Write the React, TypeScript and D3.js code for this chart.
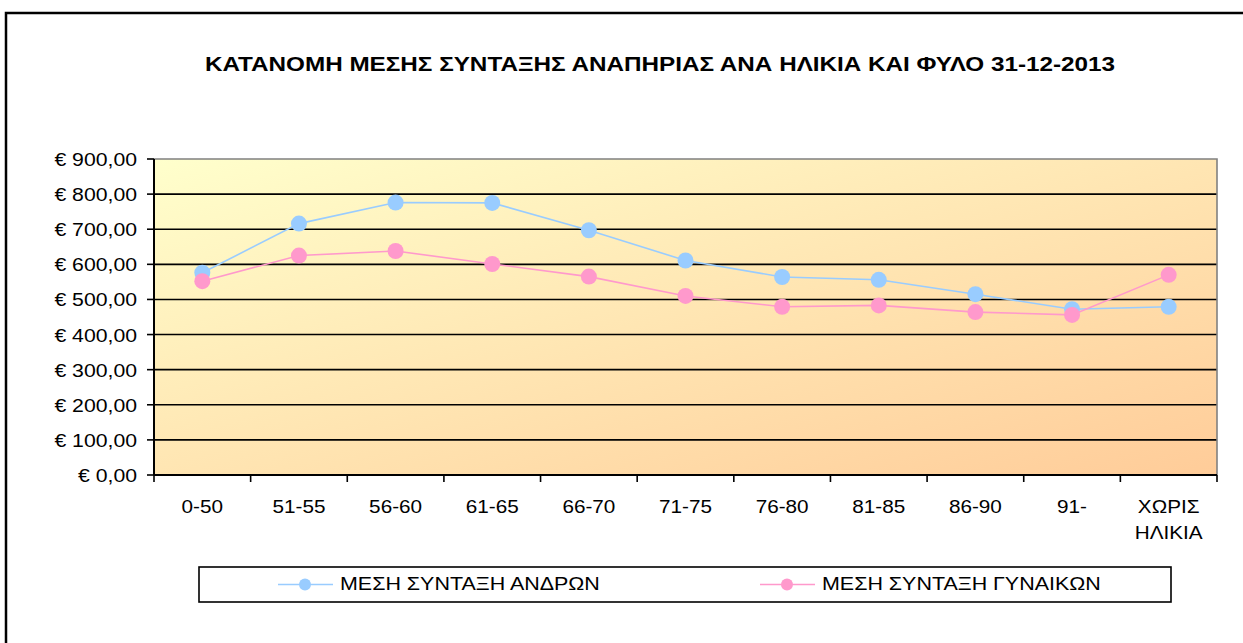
import React from "react";
import * as d3 from "d3";

const title = "ΚΑΤΑΝΟΜΗ ΜΕΣΗΣ ΣΥΝΤΑΞΗΣ ΑΝΑΠΗΡΙΑΣ ΑΝΑ ΗΛΙΚΙΑ ΚΑΙ ΦΥΛΟ 31-12-2013";
const categories = ["0-50", "51-55", "56-60", "61-65", "66-70", "71-75", "76-80", "81-85", "86-90", "91-", "ΧΩΡΙΣ ΗΛΙΚΙΑ"];
const men = [576, 716, 776, 775, 697, 611, 564, 556, 515, 472, 479];
const women = [552, 625, 638, 601, 565, 510, 479, 483, 464, 456, 570];
const yTicks = [0, 100, 200, 300, 400, 500, 600, 700, 800, 900];
const seriesNames = ["ΜΕΣΗ ΣΥΝΤΑΞΗ ΑΝΔΡΩΝ", "ΜΕΣΗ ΣΥΝΤΑΞΗ ΓΥΝΑΙΚΩΝ"];
const seriesColors = ["#99CCFF", "#FF99CC"];

const W = 1243, H = 643;
const plot = { left: 154, right: 1217, top: 159, bottom: 475 };
const font = "'Liberation Sans', Arial, sans-serif";

const locale = d3.formatLocale({ decimal: ",", thousands: ".", grouping: [3], currency: ["€ ", ""] });
const money = locale.format("$,.2f");

// the original text is a bit stretched sideways
const at = (x: number, y: number, sx: number) => `translate(${x},${y}) scale(${sx},1)`;

export default function App() {
  const x = d3.scaleBand().domain(categories).range([plot.left, plot.right]);
  const y = d3.scaleLinear().domain([0, 900]).range([plot.bottom, plot.top]);
  const cx = (c: string) => (x(c) as number) + x.bandwidth() / 2;
  const line = d3.line<number>().x((_, i) => cx(categories[i])).y((d) => y(d));
  const series = [men, women];

  return (
    <div style={{ position: "absolute", left: 0, top: 0 }}>
      <svg width={W} height={H} style={{ display: "block" }} fontFamily={font}>
        <defs>
          <linearGradient id="bg" x1="0" y1="0" x2="1" y2="1">
            <stop offset="0" stopColor="#FFFFCC" />
            <stop offset="1" stopColor="#FFCC99" />
          </linearGradient>
        </defs>
        <rect x={0} y={0} width={W} height={H} fill="#fff" />
        <rect x={6} y={13} width={1260} height={700} fill="none" stroke="#000" strokeWidth={2.5} />

        <text x={660} y={70.5} textAnchor="middle" fontWeight="bold" fontSize={21} textLength={910} lengthAdjust="spacingAndGlyphs">
          {title}
        </text>

        <rect x={plot.left} y={plot.top} width={plot.right - plot.left} height={plot.bottom - plot.top} fill="url(#bg)" />
        {yTicks.filter((t) => t > 0 && t < 900).map((t) => (
          <line key={t} x1={plot.left} x2={plot.right} y1={y(t)} y2={y(t)} stroke="#000" strokeWidth={1.6} />
        ))}
        <path d={`M${plot.left},${plot.top}H${plot.right}V${plot.bottom}`} fill="none" stroke="#808080" strokeWidth={1.6} />

        {/* y axis */}
        <line x1={plot.left} x2={plot.left} y1={plot.top} y2={plot.bottom} stroke="#000" strokeWidth={2} />
        {yTicks.map((t) => (
          <g key={t}>
            <line x1={plot.left - 7} x2={plot.left} y1={y(t)} y2={y(t)} stroke="#000" strokeWidth={1.6} />
            <text transform={at(137, y(t) + 7, 1.18)} textAnchor="end" fontSize={18}>{money(t)}</text>
          </g>
        ))}

        {/* x axis */}
        <line x1={plot.left} x2={plot.right} y1={plot.bottom} y2={plot.bottom} stroke="#000" strokeWidth={2} />
        {categories.concat([""]).map((c, i) => {
          const xt = plot.left + i * x.step();
          return <line key={i} x1={xt} x2={xt} y1={plot.bottom} y2={plot.bottom + 7} stroke="#000" strokeWidth={1.6} />;
        })}
        {categories.map((c) => (
          <text key={c} transform={at(cx(c), 512.5, 1.12)} textAnchor="middle" fontSize={18.5}>
            {c.split(" ").map((part, j) => (
              <tspan key={j} x={0} dy={j === 0 ? 0 : 27}>{part}</tspan>
            ))}
          </text>
        ))}

        {/* series */}
        {series.map((s, k) => (
          <g key={k}>
            <path d={line(s) as string} fill="none" stroke={seriesColors[k]} strokeWidth={1.6} />
            {s.map((v, i) => (
              <circle key={i} cx={cx(categories[i])} cy={y(v)} r={8} fill={seriesColors[k]} />
            ))}
          </g>
        ))}

        {/* legend */}
        <rect x={199} y={567} width={972} height={35} fill="#fff" stroke="#000" strokeWidth={1.6} />
        {seriesNames.map((name, k) => {
          const x0 = k === 0 ? 278 : 760;
          return (
            <g key={name}>
              <line x1={x0} x2={x0 + 55} y1={584.5} y2={584.5} stroke={seriesColors[k]} strokeWidth={1.6} />
              <circle cx={x0 + 27} cy={584.5} r={6} fill={seriesColors[k]} />
              <text transform={at(x0 + 62, 590, 1.16)} fontSize={18.5}>{name}</text>
            </g>
          );
        })}
      </svg>
    </div>
  );
}
